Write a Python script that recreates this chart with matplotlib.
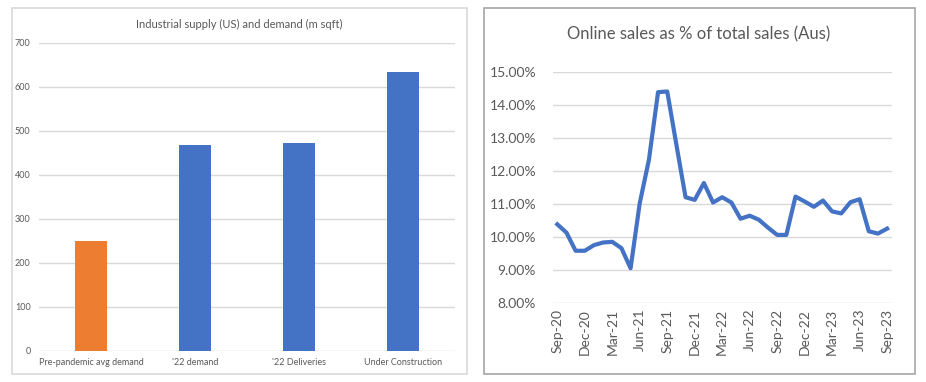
import numpy as np
import matplotlib
matplotlib.use('Agg')
import matplotlib.pyplot as plt
from matplotlib.patches import Rectangle
from matplotlib.ticker import FuncFormatter

plt.rcParams['font.family'] = ['Lato', 'DejaVu Sans']

# left chart data
bar_labels = ['Pre-pandemic avg demand', "'22 demand", "'22 Deliveries", 'Under Construction']
bar_values = [250, 467, 473, 633]
bar_colors = ['#ED7D31', '#4472C4', '#4472C4', '#4472C4']

# right chart data (monthly, Sep-20 .. Sep-23)
months = ['Sep-20', 'Oct-20', 'Nov-20', 'Dec-20', 'Jan-21', 'Feb-21', 'Mar-21', 'Apr-21',
          'May-21', 'Jun-21', 'Jul-21', 'Aug-21', 'Sep-21', 'Oct-21', 'Nov-21', 'Dec-21',
          'Jan-22', 'Feb-22', 'Mar-22', 'Apr-22', 'May-22', 'Jun-22', 'Jul-22', 'Aug-22',
          'Sep-22', 'Oct-22', 'Nov-22', 'Dec-22', 'Jan-23', 'Feb-23', 'Mar-23', 'Apr-23',
          'May-23', 'Jun-23', 'Jul-23', 'Aug-23', 'Sep-23']
online_pct = [10.39, 10.14, 9.59, 9.59, 9.76, 9.84, 9.86, 9.67, 9.06, 11.03, 12.34, 14.39,
              14.41, 12.80, 11.21, 11.13, 11.64, 11.05, 11.21, 11.05, 10.56, 10.65, 10.53, 10.29,
              10.07, 10.07, 11.23, 11.08, 10.92, 11.11, 10.78, 10.72, 11.06, 11.15, 10.18, 10.11,
              10.26]

txt = '#595959'
grid = '#d9d9d9'

fig = plt.figure(figsize=(9.26, 3.82), dpi=100)

# panel frames
fig.patches.append(Rectangle((11.5 / 926, 1 - 374 / 382), 455 / 926, 366 / 382,
                             transform=fig.transFigure, fill=False, edgecolor='#d9d9d9', lw=1.2))
fig.patches.append(Rectangle((483.5 / 926, 1 - 374 / 382), 431 / 926, 366 / 382,
                             transform=fig.transFigure, fill=False, edgecolor='#a6a6a6', lw=1.2))

# ---- left: bars
ax1 = fig.add_axes([39 / 926, 31.3 / 382, 416 / 926, 308 / 382])
x = np.arange(len(bar_labels))
ax1.bar(x, bar_values, width=0.31, color=bar_colors, zorder=3)
ax1.set_xlim(-0.5, len(bar_labels) - 0.5)
ax1.set_ylim(0, 700)
ax1.set_yticks(range(0, 701, 100))
ax1.yaxis.grid(True, color=grid, lw=1.0)
ax1.set_axisbelow(True)
for s in ax1.spines.values():
    s.set_visible(False)
ax1.set_xticks(x)
ax1.set_xticklabels(bar_labels)
ax1.tick_params(axis='both', length=0, labelsize=6.5, colors=txt)
ax1.tick_params(axis='y', pad=6)
ax1.tick_params(axis='x', pad=5)
fig.text(239 / 926, 1 - 24 / 382, 'Industrial supply (US) and demand (m sqft)',
         ha='center', va='center', fontsize=8, color=txt)

# ---- right: line
ax2 = fig.add_axes([552.7 / 926, 78.7 / 382, 339 / 926, 231.3 / 382])
xi = np.arange(len(months))
ax2.plot(xi, online_pct, color='#4472C4', lw=3, solid_joinstyle='round', zorder=3)
ax2.set_xlim(-0.5, len(months) - 0.5)
ax2.set_ylim(8, 15)
ax2.set_yticks(range(8, 16))
ax2.yaxis.set_major_formatter(FuncFormatter(lambda v, p: '%.2f%%' % v))
ax2.yaxis.grid(True, color=grid, lw=1.0)
ax2.set_axisbelow(True)
for s in ax2.spines.values():
    s.set_visible(False)
ax2.set_xticks(xi[::3])
ax2.set_xticklabels(months[::3], rotation=90)
ax2.tick_params(axis='both', length=0, labelsize=10, colors=txt)
ax2.tick_params(axis='y', pad=12)
ax2.tick_params(axis='x', pad=4)
fig.text(699 / 926, 1 - 34 / 382, 'Online sales as % of total sales (Aus)',
         ha='center', va='center', fontsize=12, color=txt)

fig.savefig('out.png', dpi=100)
